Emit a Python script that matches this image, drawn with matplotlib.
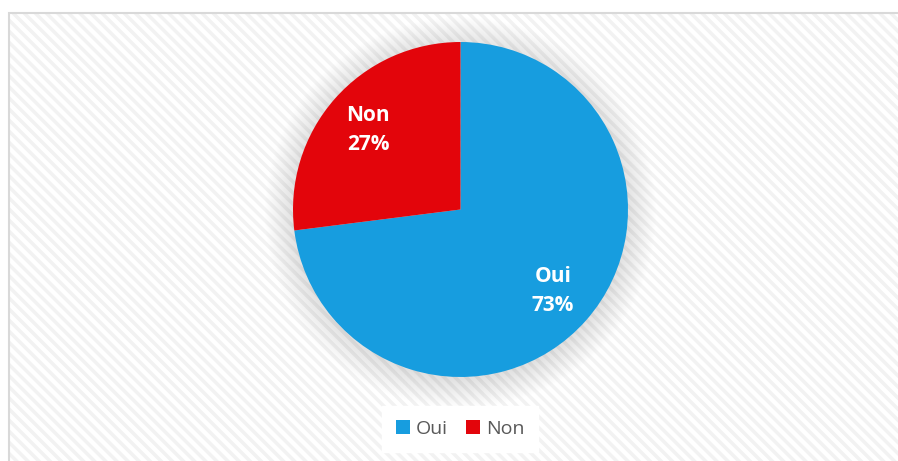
import matplotlib
matplotlib.use("Agg")
import matplotlib.pyplot as plt
from matplotlib.patches import Rectangle, Circle

labels = ["Oui", "Non"]
values = [73, 27]
colors = ["#179ddf", "#e3050b"]

W, H = 898, 461
plt.rcParams['hatch.linewidth'] = 2.5
plt.rcParams['hatch.color'] = '#f2f2f2'

fig = plt.figure(figsize=(W/100, H/100), dpi=100)
ax = fig.add_axes([0, 0, 1, 1])

# chart area background with diagonal stripes
bg = Rectangle((9, 0), W - 9, H - 14, facecolor='white', edgecolor='#f2f2f2',
               hatch='\\\\\\', linewidth=0, zorder=0)
ax.add_patch(bg)
border = Rectangle((8.5, -5), W, H - 13.5 + 5, facecolor='none', edgecolor='#d9d9d9',
                   linewidth=1.5, zorder=1)
ax.add_patch(border)

cx, cy, r = 460.5, H - 209.5, 167.5

# soft shadow
n = 30
for i in range(n):
    ax.add_patch(Circle((cx, cy - 3), r + 28 - i * 1.0, facecolor='#000000',
                        alpha=0.0045, linewidth=0, zorder=2))

wedges, _ = ax.pie(values, colors=colors, startangle=90, counterclock=False,
                   center=(cx, cy), radius=r, frame=True,
                   wedgeprops=dict(linewidth=0, zorder=3))
for w in wedges:
    w.set_zorder(3)

font = ['Open Sans', 'DejaVu Sans']
ax.text(553, H - 291, "Oui\n73%", ha='center', va='center', color='white',
        fontsize=15, fontweight='bold', family=font, linespacing=1.45, zorder=5)
ax.text(368, H - 130, "Non\n27%", ha='center', va='center', color='white',
        fontsize=15, fontweight='bold', family=font, linespacing=1.45, zorder=5)

leg = ax.legend(wedges, labels, loc='center', bbox_to_anchor=(460 / W, 1 - 429 / H),
                ncol=2, frameon=True, fancybox=False, edgecolor='white',
                facecolor='white', framealpha=1.0, handlelength=0.75, handleheight=0.75,
                handletextpad=0.3, columnspacing=0.9, borderpad=0.7,
                prop={'family': font, 'size': 14})
for t in leg.get_texts():
    t.set_color('#595959')

ax.set_xlim(0, W)
ax.set_ylim(0, H)
ax.set_aspect('auto')
ax.axis('off')

fig.savefig("out.png", dpi=100, facecolor='white')
